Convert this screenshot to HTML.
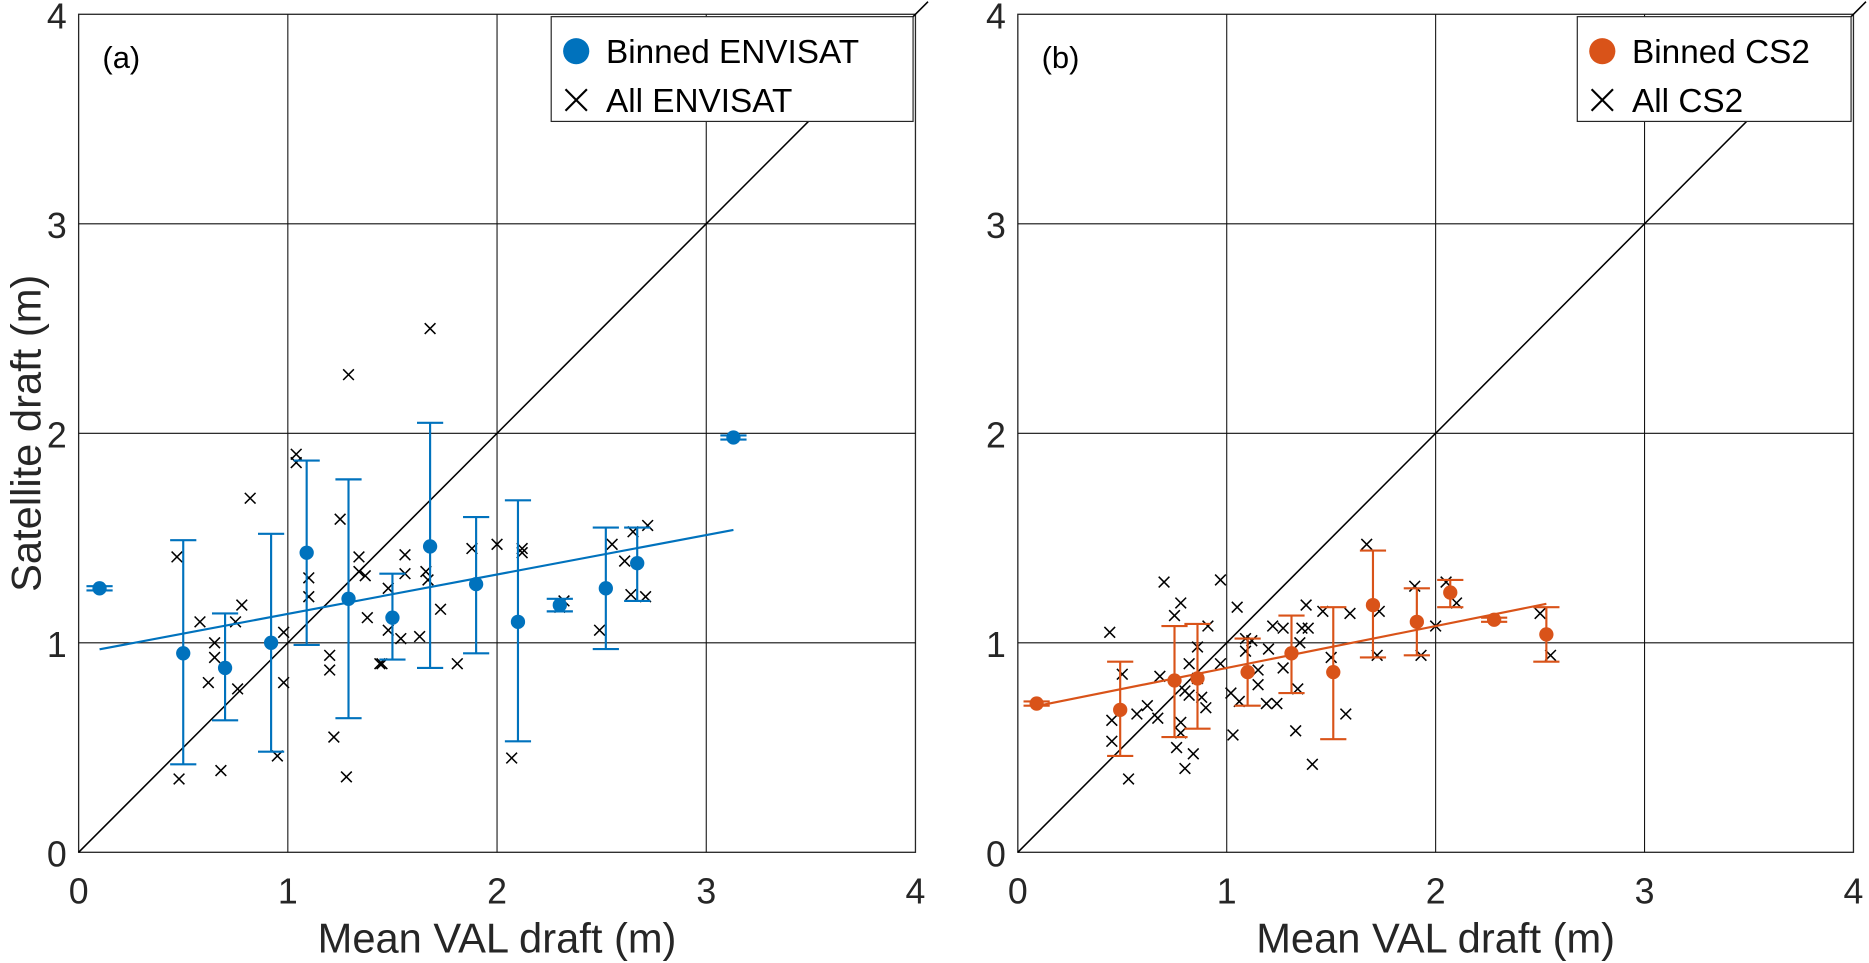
<!DOCTYPE html>
<html><head><meta charset="utf-8"><style>
html,body{margin:0;padding:0;background:#fff;}
svg{display:block;font-family:"Liberation Sans",Arial,sans-serif;}
</style></head><body>
<svg id="chart" width="1869" height="963" viewBox="0 0 1570 809"></svg>
<script>
const ticks=[0,1,2,3,4];
const tickLabels=["0","1","2","3","4"];
// Panel A data
const aBinX=[0.1,0.5,0.7,0.92,1.09,1.29,1.5,1.68,1.9,2.1,2.3,2.52,2.67,3.13];
const aBinY=[1.26,0.95,0.88,1.0,1.43,1.21,1.12,1.46,1.28,1.1,1.18,1.26,1.38,1.98];
const aLo=[1.25,0.42,0.63,0.48,0.99,0.64,0.92,0.88,0.95,0.53,1.15,0.97,1.20,1.97];
const aHi=[1.27,1.49,1.14,1.52,1.87,1.78,1.33,2.05,1.60,1.68,1.21,1.55,1.55,1.99];
const aFit=[0.95,0.188];
const aAllX=[0.48,0.47,0.58,0.62,0.65,0.65,0.68,0.75,0.78,0.76,0.82,0.95,0.98,0.98,1.04,1.04,1.10,1.10,1.20,1.20,1.22,1.25,1.29,1.28,1.34,1.34,1.37,1.38,1.44,1.45,1.48,1.48,1.56,1.56,1.54,1.63,1.66,1.67,1.68,1.73,1.81,1.88,2.0,2.07,2.12,2.12,2.32,2.30,2.49,2.55,2.61,2.65,2.72,2.71,2.64];
const aAllY=[0.35,1.41,1.10,0.81,1.0,0.93,0.39,1.10,1.18,0.78,1.69,0.46,1.05,0.81,1.90,1.86,1.31,1.22,0.94,0.87,0.55,1.59,2.28,0.36,1.41,1.34,1.32,1.12,0.90,0.90,1.26,1.06,1.42,1.33,1.02,1.03,1.34,1.30,2.50,1.16,0.9,1.45,1.47,0.45,1.45,1.43,1.20,1.17,1.06,1.47,1.39,1.53,1.56,1.22,1.23];
// Panel B data
const bBinX=[0.09,0.49,0.75,0.86,1.10,1.31,1.51,1.70,1.91,2.07,2.28,2.53];
const bBinY=[0.71,0.68,0.82,0.83,0.86,0.95,0.86,1.18,1.10,1.24,1.11,1.04];
const bLo=[0.70,0.46,0.55,0.59,0.70,0.76,0.54,0.93,0.94,1.17,1.10,0.91];
const bHi=[0.72,0.91,1.08,1.09,1.02,1.13,1.17,1.44,1.26,1.30,1.12,1.17];
const bFit=[0.68,0.2];
const bAllX=[0.44,0.45,0.45,0.5,0.53,0.57,0.62,0.67,0.68,0.7,0.75,0.76,0.78,0.78,0.78,0.8,0.8,0.82,0.82,0.84,0.86,0.86,0.88,0.9,0.91,0.97,0.97,1.02,1.03,1.05,1.06,1.09,1.09,1.12,1.15,1.15,1.19,1.2,1.22,1.24,1.27,1.27,1.33,1.34,1.35,1.36,1.38,1.39,1.41,1.46,1.5,1.57,1.59,1.67,1.72,1.73,1.9,1.93,2.0,2.05,2.1,2.5,2.55];
const bAllY=[1.05,0.63,0.53,0.85,0.35,0.66,0.70,0.64,0.84,1.29,1.13,0.50,1.19,0.62,0.57,0.77,0.40,0.90,0.75,0.47,0.98,0.83,0.74,0.69,1.08,1.30,0.90,0.76,0.56,1.17,0.72,0.96,1.02,1.01,0.87,0.80,0.71,0.97,1.08,0.71,1.07,0.88,0.58,0.78,1.0,1.07,1.18,1.07,0.42,1.15,0.93,0.66,1.14,1.47,0.94,1.15,1.27,0.94,1.08,1.29,1.19,1.14,0.94];

const NS="http://www.w3.org/2000/svg";
const svg=document.getElementById('chart');
function mk(tag,attrs,parent){const e=document.createElementNS(NS,tag);for(const k in attrs)e.setAttribute(k,attrs[k]);(parent||svg).appendChild(e);return e;}

function panel(cfg){
  const g=mk('g',{});
  
  
  const X=v=>cfg.x0+v*cfg.sx, Y=v=>716-v*176;
  mk('rect',{x:X(0),y:Y(4),width:X(4)-X(0),height:Y(0)-Y(4),fill:'#fff',stroke:'#262626','stroke-width':1.1},g);
  ticks.forEach((t,i)=>{
    if(t>0&&t<4){
      const gx=mk('line',{x1:X(t),x2:X(t),y1:Y(0),y2:Y(4),stroke:'#111','stroke-width':0.9},g);
      
      const gy=mk('line',{x1:X(0),x2:X(4),y1:Y(t),y2:Y(t),stroke:'#111','stroke-width':0.9},g);
      
    }
    const xt=mk('text',{x:X(t),y:759,'text-anchor':'middle','font-size':30,fill:'#262626'},g);
    xt.textContent=tickLabels[i];
    
    const yt=mk('text',{x:X(0)-10,y:Y(t)+12,'text-anchor':'end','font-size':30,fill:'#262626'},g);
    yt.textContent=tickLabels[i];
    
  });
  const idl=mk('line',{x1:X(0),y1:Y(0),x2:X(4.06),y2:Y(4.06),stroke:'#000','stroke-width':1.3},g);
  
  cfg.allX.forEach((v,i)=>{
    const cx=X(v),cy=Y(cfg.allY[i]),s=4.5;
    const p=mk('path',{d:`M${cx-s},${cy-s}L${cx+s},${cy+s}M${cx-s},${cy+s}L${cx+s},${cy-s}`,stroke:'#000','stroke-width':1.3},g);
    
  });
  const x1=cfg.binX[0],x2=cfg.binX[cfg.binX.length-1];
  const fl=mk('line',{x1:X(x1),y1:Y(cfg.fit[0]+cfg.fit[1]*x1),x2:X(x2),y2:Y(cfg.fit[0]+cfg.fit[1]*x2),stroke:cfg.col,'stroke-width':1.8},g);
  
  cfg.binX.forEach((v,i)=>{
    const cx=X(v),lo=Y(cfg.lo[i]),hi=Y(cfg.hi[i]);
    const eb=mk('path',{d:`M${cx},${lo}L${cx},${hi}M${cx-11},${lo}L${cx+11},${lo}M${cx-11},${hi}L${cx+11},${hi}`,stroke:cfg.col,'stroke-width':1.8,fill:'none'},g);
    
    const c=mk('circle',{cx:cx,cy:Y(cfg.binY[i]),r:6,fill:cfg.col},g);
    
  });
  const pl=mk('text',{x:X(0)+20,y:57,'font-size':26,fill:'#000'},g);
  pl.textContent=cfg.label;
  
  const lg=mk('g',{},g);
  
  mk('rect',{x:cfg.lx,y:14,width:X(4)-2-cfg.lx,height:88,fill:'#fff',stroke:'#262626','stroke-width':1},lg);
  mk('circle',{cx:cfg.lx+21,cy:43,r:11,fill:cfg.col},lg);
  const t1=mk('text',{x:cfg.lx+46,y:53,'font-size':28,fill:'#000'},lg);t1.textContent=cfg.l1;
  
  const lx=cfg.lx+21,ly=84;
  mk('path',{d:`M${lx-9},${ly-9}L${lx+9},${ly+9}M${lx-9},${ly+9}L${lx+9},${ly-9}`,stroke:'#000','stroke-width':1.8},lg);
  const t2=mk('text',{x:cfg.lx+46,y:94,'font-size':28,fill:'#000'},lg);t2.textContent=cfg.l2;
  
  const xl=mk('text',{x:(X(0)+X(4))/2,y:800,'text-anchor':'middle','font-size':35,fill:'#262626'},g);
  xl.textContent='Mean VAL draft (m)';
  
}
panel({id:'a',x0:66,sx:175.75,col:'#0072BD',binX:aBinX,binY:aBinY,lo:aLo,hi:aHi,fit:aFit,allX:aAllX,allY:aAllY,label:'(a)',lx:463,l1:'Binned ENVISAT',l2:'All ENVISAT'});
panel({id:'b',x0:855,sx:175.5,col:'#D95319',binX:bBinX,binY:bBinY,lo:bLo,hi:bHi,fit:bFit,allX:bAllX,allY:bAllY,label:'(b)',lx:1325,l1:'Binned CS2',l2:'All CS2'});
const yl=mk('text',{x:0,y:0,'text-anchor':'middle','font-size':35,fill:'#262626',transform:'translate(34,364) rotate(-90)'});
yl.textContent='Satellite draft (m)';


</script>
</body></html>
